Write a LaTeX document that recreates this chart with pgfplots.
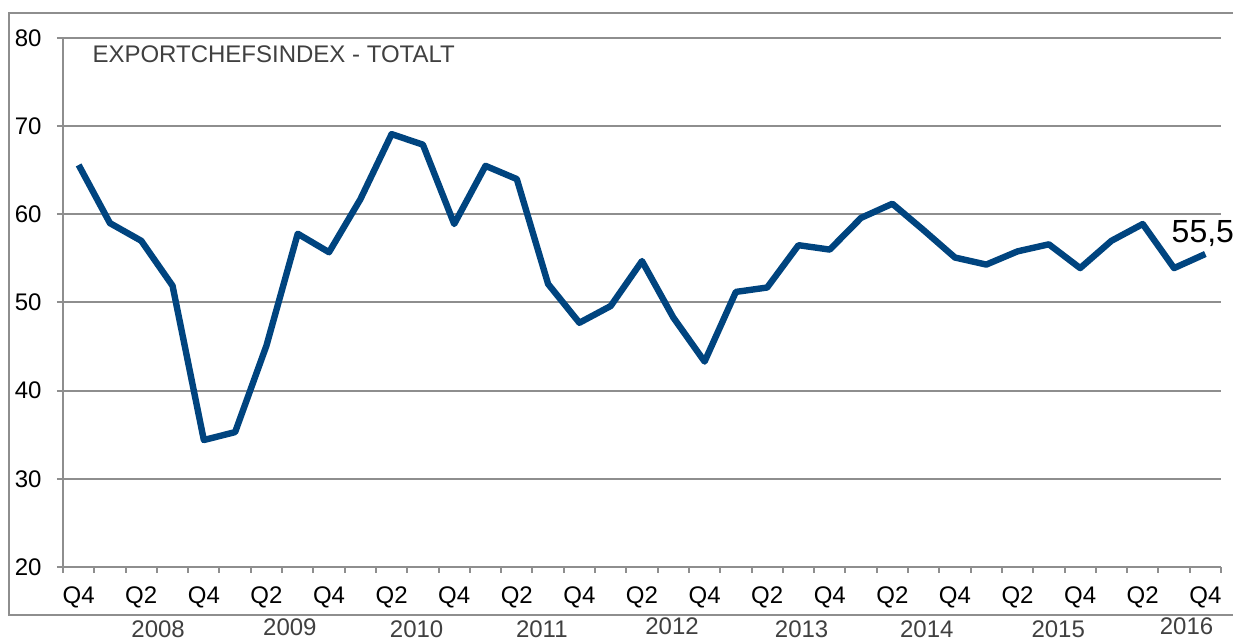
\documentclass[border=0pt]{standalone}
\usepackage{fontspec}
\setmainfont{Liberation Sans}
\usepackage{pgfplots}
\pgfplotsset{compat=1.18}
\definecolor{lineblue}{HTML}{00447F}
\definecolor{gridgray}{HTML}{8E8E8E}
\definecolor{txtgray}{HTML}{404040}
\newcommand{\lbl}{\fontsize{12}{14}\selectfont}
\begin{document}
\begin{tikzpicture}[x=1pt,y=1pt]
\useasboundingbox (-31.5,-37) rectangle (585,283.5);
\draw[gridgray, line width=1pt] (-27,-24) rectangle (590,277.2);
\begin{axis}[
  at={(0,0)}, anchor=south west,
  scale only axis, width=579pt, height=264.5pt,
  xmin=-0.5, xmax=36.5, ymin=20, ymax=80,
  axis x line*=bottom, axis y line*=left,
  axis line style={gridgray, line width=1pt, -},
  ytick={20,30,...,80},
  ymajorgrids, grid style={gridgray, line width=1pt},
  xtick={-0.5,0.5,...,36.5}, xticklabels={},
  extra x ticks={0,2,...,36},
  extra x tick labels={Q4,Q2,Q4,Q2,Q4,Q2,Q4,Q2,Q4,Q2,Q4,Q2,Q4,Q2,Q4,Q2,Q4,Q2,Q4},
  extra x tick style={major tick length=0pt, xticklabel style={anchor=base, yshift=-18.5pt, inner sep=0pt}},
  tick align=outside, major tick length=3pt,
  tick style={gridgray, line width=1pt},
  yticklabel style={anchor=east, inner sep=0pt, xshift=-7.5pt},
  every tick label/.append style={font=\lbl, text=black},
  /pgf/number format/assume math mode=true,
  clip=false,
]
\addplot[lineblue, line width=3.2pt, line join=round] table[row sep=\\] {
x y\\
0 65.6\\ 1 59.0\\ 2 57.0\\ 3 51.9\\ 4 34.4\\ 5 35.3\\ 6 45.1\\ 7 57.8\\ 8 55.7\\ 9 61.7\\
10 69.1\\ 11 67.9\\ 12 58.9\\ 13 65.5\\ 14 64.0\\ 15 52.1\\ 16 47.7\\ 17 49.6\\ 18 54.7\\ 19 48.3\\
20 43.3\\ 21 51.2\\ 22 51.7\\ 23 56.5\\ 24 56.0\\ 25 59.6\\ 26 61.2\\ 27 58.2\\ 28 55.1\\ 29 54.3\\
30 55.8\\ 31 56.6\\ 32 53.9\\ 33 57.0\\ 34 58.9\\ 35 53.9\\ 36 55.5\\
};
\node[anchor=base west, inner sep=0pt, text=txtgray, font=\lbl] at (axis cs:0.43,77.17) {EXPORTCHEFSINDEX - TOTALT};
\node[anchor=base west, inner sep=0pt, font=\fontsize{16}{19}\selectfont, xshift=-17pt, yshift=6pt] at (axis cs:36,55.5) {55,5};
\node[anchor=base, inner sep=0pt, text=txtgray, font=\lbl, yshift=-35.5pt] at (axis cs:2.54,20) {2008};
\node[anchor=base, inner sep=0pt, text=txtgray, font=\lbl, yshift=-34.5pt] at (axis cs:6.75,20) {2009};
\node[anchor=base, inner sep=0pt, text=txtgray, font=\lbl, yshift=-35.3pt] at (axis cs:10.8,20) {2010};
\node[anchor=base, inner sep=0pt, text=txtgray, font=\lbl, yshift=-35.3pt] at (axis cs:14.8,20) {2011};
\node[anchor=base, inner sep=0pt, text=txtgray, font=\lbl, yshift=-34pt] at (axis cs:18.96,20) {2012};
\node[anchor=base, inner sep=0pt, text=txtgray, font=\lbl, yshift=-35.3pt] at (axis cs:23.1,20) {2013};
\node[anchor=base, inner sep=0pt, text=txtgray, font=\lbl, yshift=-35.3pt] at (axis cs:27.1,20) {2014};
\node[anchor=base, inner sep=0pt, text=txtgray, font=\lbl, yshift=-35.3pt] at (axis cs:31.3,20) {2015};
\node[anchor=base, inner sep=0pt, text=txtgray, font=\lbl, yshift=-34pt] at (axis cs:35.4,20) {2016};
\end{axis}
\end{tikzpicture}
\end{document}
